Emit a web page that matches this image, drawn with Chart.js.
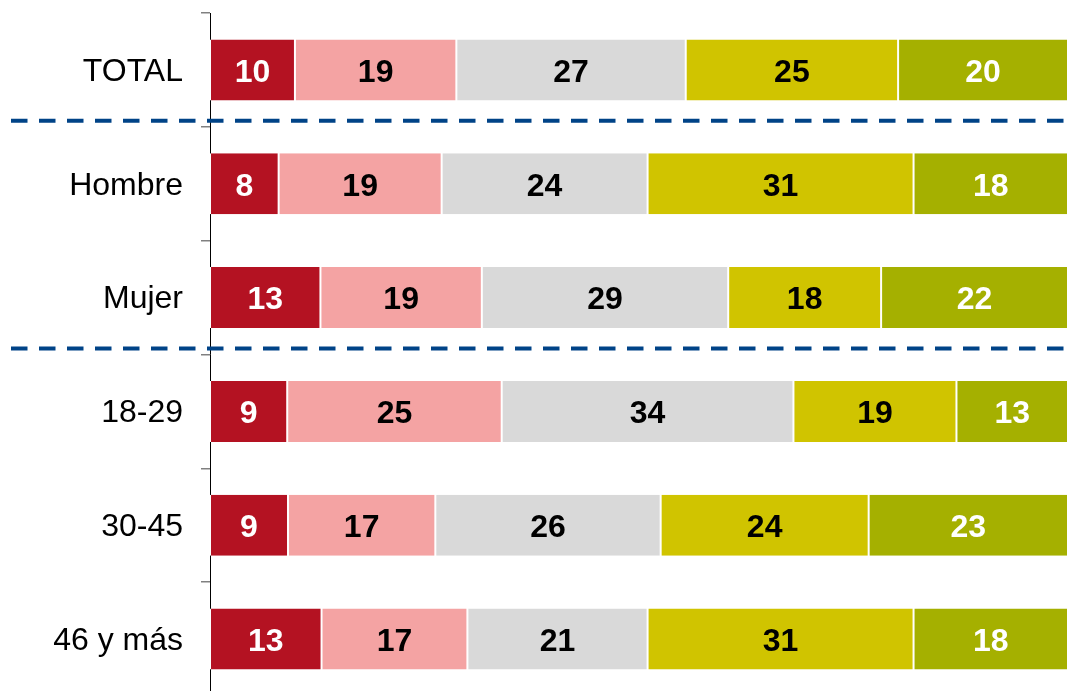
<!DOCTYPE html>
<html>
<head>
<meta charset="utf-8">
<script src="https://cdn.jsdelivr.net/npm/chart.js@4.4.1/dist/chart.umd.min.js"></script>
<style>
  html, body { margin: 0; padding: 0; background: #fff; overflow: hidden; }
  canvas { display: block; }
</style>
</head>
<body>
<canvas id="bars" width="1074" height="700"></canvas>
<script>
// Categories (rows) and series values
const categories = ["TOTAL", "Hombre", "Mujer", "18-29", "30-45", "46 y más"];
const seriesNames = ["Serie 1", "Serie 2", "Serie 3", "Serie 4", "Serie 5"];
const serie1 = [10, 8, 13, 9, 9, 13];
const serie2 = [19, 19, 19, 25, 17, 17];
const serie3 = [27, 24, 29, 34, 26, 21];
const serie4 = [25, 31, 18, 19, 24, 31];
const serie5 = [20, 18, 22, 13, 23, 18];
// dashed separators are drawn below these rows
const separatorsAfter = [0, 2];

const allSeries = [serie1, serie2, serie3, serie4, serie5];
const fillColors = ["#B41222", "#F4A3A3", "#D9D9D9", "#D0C400", "#A5B000"];
const labelColors = ["#ffffff", "#000000", "#000000", "#000000", "#ffffff"];

// each row is stretched to 100% (the rounded numbers don't always add to 100)
const rowSums = categories.map((c, i) => allSeries.reduce((s, arr) => s + arr[i], 0));

const datasets = allSeries.map((arr, k) => ({
  label: seriesNames[k],
  data: arr.map((v, i) => v / rowSums[i] * 100),
  raw: arr,
  backgroundColor: fillColors[k],
  borderColor: "#ffffff",
  borderWidth: { left: 1, right: 1, top: 0, bottom: 0 },
  borderSkipped: false,
  categoryPercentage: 1,
  barPercentage: 0.536,
}));

// draw the numbers inside every segment
const valueLabels = {
  id: "valueLabels",
  afterDatasetsDraw(chart) {
    const ctx = chart.ctx;
    ctx.save();
    ctx.font = "bold 32px 'Liberation Sans', Arial, sans-serif";
    ctx.textAlign = "center";
    ctx.textBaseline = "middle";
    chart.data.datasets.forEach((ds, k) => {
      chart.getDatasetMeta(k).data.forEach((bar, i) => {
        const mid = (bar.x + bar.base) / 2;
        ctx.fillStyle = labelColors[k];
        ctx.fillText(String(ds.raw[i]), mid, bar.y + 3);
      });
    });
    ctx.restore();
  },
};

// blue dashed lines between groups
const separators = {
  id: "separators",
  afterDatasetsDraw(chart) {
    const ctx = chart.ctx;
    const y = chart.scales.y;
    ctx.save();
    ctx.strokeStyle = "#004387";
    ctx.lineWidth = 4;
    ctx.setLineDash([16.5, 11.5]);
    separatorsAfter.forEach((idx) => {
      const yy = (y.getPixelForValue(idx) + y.getPixelForValue(idx + 1)) / 2 - 6;
      ctx.beginPath();
      ctx.moveTo(11, yy);
      ctx.lineTo(1064, yy);
      ctx.stroke();
    });
    ctx.restore();
  },
};

new Chart(document.getElementById("bars").getContext("2d"), {
  type: "bar",
  data: { labels: categories, datasets: datasets },
  options: {
    indexAxis: "y",
    responsive: false,
    animation: false,
    layout: { padding: { top: 13, right: 6, bottom: 4, left: 0 } },
    plugins: {
      legend: { display: false },
      tooltip: { enabled: false },
    },
    scales: {
      x: {
        stacked: true,
        display: false,
        min: 0,
        max: 100,
      },
      y: {
        stacked: true,
        grid: {
          drawOnChartArea: false,
          drawTicks: true,
          tickLength: 9,
          color: "#808080",
          lineWidth: 1.5,
        },
        border: { color: "#000000", width: 1 },
        ticks: {
          color: "#000000",
          padding: 18,
          labelOffset: 2,
          font: { family: "'Liberation Sans', Arial, sans-serif", size: 32 },
        },
        afterFit(scale) {
          scale.width = 210;
          scale.paddingTop = 0;
          scale.paddingBottom = 0;
        },
      },
    },
  },
  plugins: [valueLabels, separators],
});
</script>
</body>
</html>
